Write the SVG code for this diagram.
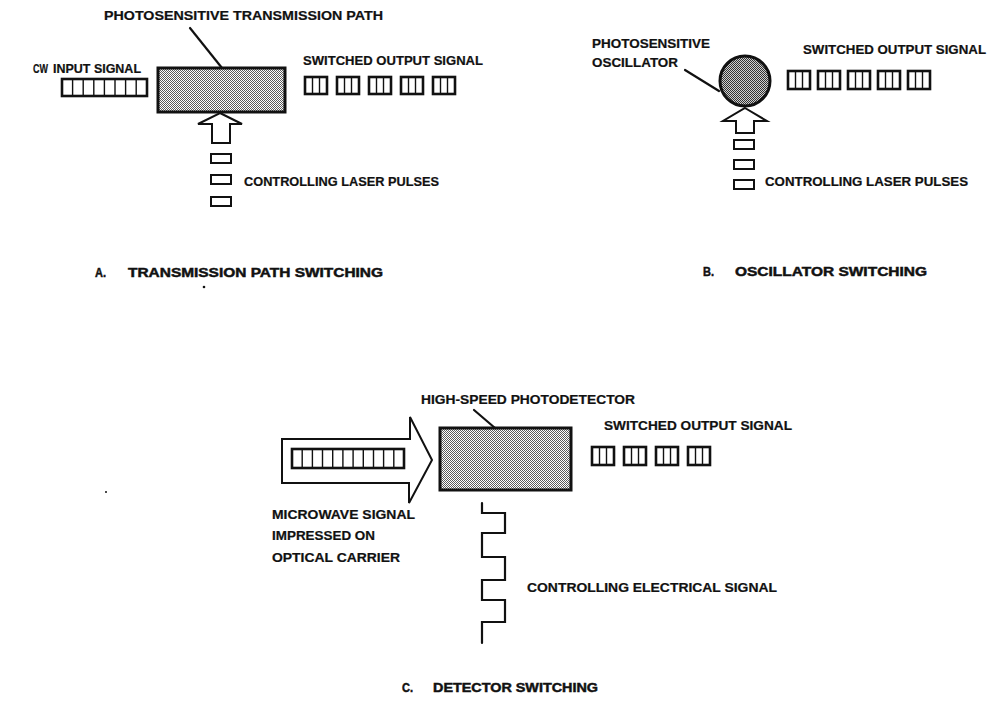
<svg xmlns="http://www.w3.org/2000/svg" width="1000" height="704" viewBox="0 0 1000 704">
  <defs>
    <!-- fine halftone used for the photosensitive elements -->
    <pattern id="dither" width="2" height="2" patternUnits="userSpaceOnUse">
      <rect width="2" height="2" fill="#fff"/>
      <rect width="1" height="1" fill="#5a5a5a"/>
      <rect x="1" y="1" width="1" height="1" fill="#5a5a5a"/>
    </pattern>
    <pattern id="ditherDark" width="2" height="2" patternUnits="userSpaceOnUse">
      <rect width="2" height="2" fill="#d0d0d0"/>
      <rect width="1" height="1" fill="#333"/>
      <rect x="1" y="1" width="1" height="1" fill="#333"/>
    </pattern>
    <style>
      .t{font-family:"Liberation Sans",Arial,sans-serif;font-size:12px;font-weight:bold;fill:#111;stroke:#111;stroke-width:0.2}
      .h{font-family:"Liberation Sans",Arial,sans-serif;font-size:12px;font-weight:bold;fill:#111;stroke:#111;stroke-width:0.45}
      .ln{stroke:#111;stroke-width:2.2;fill:none;stroke-linecap:round}
      .frame{stroke:#111;stroke-width:3;}
      .outline{stroke:#111;stroke-width:2;fill:#fff;stroke-linejoin:miter}
      .pulse{stroke:#111;stroke-width:2.6;fill:#fff}
      .tick{stroke:#111;stroke-width:1.4}
    </style>
    <!-- one burst of the switched output, drawn as a framed block with two splits -->
    <g id="burst">
      <rect class="pulse" x="0" y="0" width="22" height="17"/>
      <line class="tick" x1="7.5" y1="1" x2="7.5" y2="16"/>
      <line class="tick" x1="14.5" y1="1" x2="14.5" y2="16"/>
    </g>
    <g id="burstB">
      <rect class="pulse" x="0" y="0" width="22" height="18"/>
      <line class="tick" x1="7.5" y1="1" x2="7.5" y2="17"/>
      <line class="tick" x1="14.5" y1="1" x2="14.5" y2="17"/>
    </g>
    <rect id="laser" class="outline" x="0" y="0" width="20" height="9"/>
  </defs>

  <rect width="1000" height="704" fill="#fff"/>

  <!-- ===== A. transmission path switching ===== -->
  <g id="pathElement">
    <rect class="frame" x="158" y="68" width="127" height="44" fill="url(#dither)"/>
    <text class="t" x="104" y="20" textLength="279" lengthAdjust="spacingAndGlyphs">PHOTOSENSITIVE TRANSMISSION PATH</text>
  </g>
  <g id="cwInput">
    <text class="t" x="33" y="73" textLength="15" lengthAdjust="spacingAndGlyphs">CW</text>
    <text class="t" x="53" y="73" textLength="88" lengthAdjust="spacingAndGlyphs">INPUT SIGNAL</text>
    <rect class="pulse" x="62" y="79" width="85" height="17"/>
    <path class="tick" d="M72.6,80V95M83.2,80V95M93.8,80V95M104.4,80V95M115,80V95M125.6,80V95M136.2,80V95"/>
  </g>
  <g id="outputA">
    <text class="t" x="303" y="65" textLength="180" lengthAdjust="spacingAndGlyphs">SWITCHED OUTPUT SIGNAL</text>
    <use href="#burst" x="305" y="77"/>
    <use href="#burst" x="337" y="77"/>
    <use href="#burst" x="369" y="77"/>
    <use href="#burst" x="401" y="77"/>
    <use href="#burst" x="433" y="77"/>
  </g>
  <g id="laserA">
    <use href="#laser" x="211" y="154"/>
    <use href="#laser" x="211" y="175"/>
    <use href="#laser" x="211" y="197"/>
    <text class="t" x="244" y="186" textLength="195" lengthAdjust="spacingAndGlyphs">CONTROLLING LASER PULSES</text>
  </g>
  <g id="captionA">
    <text class="h" x="95" y="277" textLength="11" lengthAdjust="spacingAndGlyphs">A.</text>
    <text class="h" x="128" y="277" textLength="255" lengthAdjust="spacingAndGlyphs">TRANSMISSION  PATH  SWITCHING</text>
  </g>

  <!-- ===== B. oscillator switching ===== -->
  <g id="oscillator">
    <circle cx="745" cy="81" r="25" fill="url(#ditherDark)" stroke="#111" stroke-width="3"/>
    <text class="t" x="592" y="48" textLength="118" lengthAdjust="spacingAndGlyphs">PHOTOSENSITIVE</text>
    <text class="t" x="592" y="67" textLength="86" lengthAdjust="spacingAndGlyphs">OSCILLATOR</text>
  </g>
  <g id="outputB">
    <text class="t" x="803" y="54" textLength="183" lengthAdjust="spacingAndGlyphs">SWITCHED OUTPUT SIGNAL</text>
    <use href="#burstB" x="788" y="71"/>
    <use href="#burstB" x="818" y="71"/>
    <use href="#burstB" x="848" y="71"/>
    <use href="#burstB" x="878" y="71"/>
    <use href="#burstB" x="908" y="71"/>
  </g>
  <g id="laserB">
    <use href="#laser" x="734" y="140"/>
    <use href="#laser" x="734" y="160"/>
    <use href="#laser" x="734" y="180"/>
    <text class="t" x="765" y="186" textLength="203" lengthAdjust="spacingAndGlyphs">CONTROLLING LASER PULSES</text>
  </g>
  <g id="captionB">
    <text class="h" x="703" y="276" textLength="11" lengthAdjust="spacingAndGlyphs">B.</text>
    <text class="h" x="735" y="276" textLength="192" lengthAdjust="spacingAndGlyphs">OSCILLATOR  SWITCHING</text>
  </g>

  <!-- ===== C. detector switching ===== -->
  <g id="detector">
    <rect class="frame" x="440" y="428" width="131" height="62" fill="url(#dither)"/>
    <text class="t" x="421" y="404" textLength="214" lengthAdjust="spacingAndGlyphs">HIGH-SPEED PHOTODETECTOR</text>
  </g>
  <g id="opticalCarrier">
    <path class="outline" d="M282,439 H410 V417 L432,460 L409,503 V483 H282 Z"/>
    <rect class="pulse" x="292" y="449" width="112" height="19"/>
    <path class="tick" d="M302.2,450V467M312.4,450V467M322.5,450V467M332.7,450V467M342.9,450V467M353.1,450V467M363.3,450V467M373.5,450V467M383.6,450V467M393.8,450V467"/>
    <text class="t" x="272" y="519" textLength="143" lengthAdjust="spacingAndGlyphs">MICROWAVE SIGNAL</text>
    <text class="t" x="272" y="540" textLength="103" lengthAdjust="spacingAndGlyphs">IMPRESSED ON</text>
    <text class="t" x="272" y="562" textLength="128" lengthAdjust="spacingAndGlyphs">OPTICAL CARRIER</text>
  </g>
  <g id="outputC">
    <text class="t" x="604" y="430" textLength="188" lengthAdjust="spacingAndGlyphs">SWITCHED OUTPUT SIGNAL</text>
    <use href="#burstB" x="592" y="447"/>
    <use href="#burstB" x="624" y="447"/>
    <use href="#burstB" x="656" y="447"/>
    <use href="#burstB" x="688" y="447"/>
  </g>
  <g id="electricalControl">
    <text class="t" x="527" y="592" textLength="250" lengthAdjust="spacingAndGlyphs">CONTROLLING ELECTRICAL SIGNAL</text>
  </g>
  <g id="captionC">
    <text class="h" x="402" y="692" textLength="11" lengthAdjust="spacingAndGlyphs">C.</text>
    <text class="h" x="433" y="692" textLength="165" lengthAdjust="spacingAndGlyphs">DETECTOR  SWITCHING</text>
  </g>

  <!-- connectors: leaders, control arrows and the electrical gate waveform -->
  <g id="connectors">
    <line class="ln" x1="190" y1="28" x2="222" y2="68"/>
    <path class="outline" d="M220,113 L242,124 H230 V143 H212 V124 H198 Z"/>
    <line class="ln" x1="685" y1="70" x2="719" y2="91"/>
    <path class="outline" d="M745,108 L767,121 H754 V133 H736 V121 H723 Z"/>
    <line class="ln" x1="474" y1="410" x2="495" y2="428"/>
    <path class="ln" stroke-linecap="butt" d="M482,503 V513 H505 V533 H482 V557 H505 V580 H482 V600 H505 V622 H482 V643"/>
  </g>

  <!-- specks -->
  <circle cx="204" cy="287" r="1.3" fill="#111"/>
  <circle cx="106" cy="492" r="1" fill="#111"/>
</svg>
